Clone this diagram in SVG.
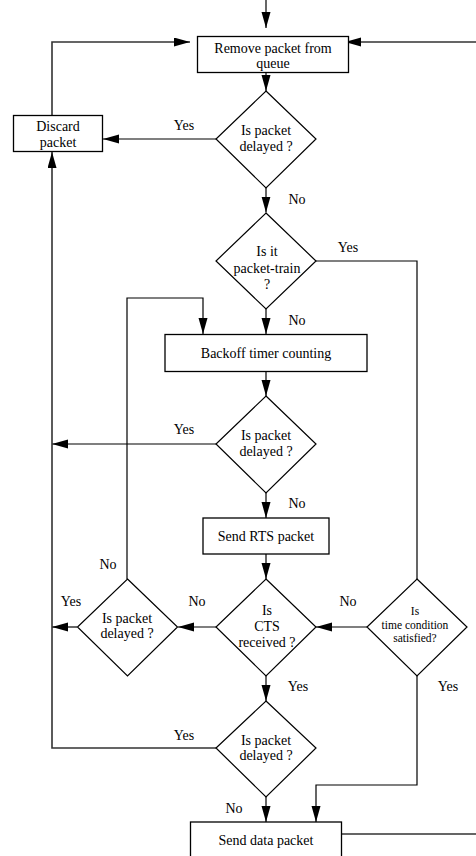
<svg xmlns="http://www.w3.org/2000/svg" width="476" height="856" viewBox="0 0 476 856">
<style>
  .box{fill:#fff;stroke:#000;stroke-width:1.3}
  .dia{fill:#fff;stroke:#000;stroke-width:1.2}
  .t{font-family:"Liberation Serif","Times New Roman",serif;font-size:14px;fill:#000;text-anchor:middle;dominant-baseline:central}
  .s{font-size:11.5px}
  .c{fill:none;stroke:#000;stroke-width:1.2}
  .o{fill:none;stroke:#333;stroke-width:1.6}
</style>
<defs>
  <marker id="ah" markerUnits="userSpaceOnUse" markerWidth="17" markerHeight="10" refX="16" refY="4.5" orient="auto">
    <path d="M0,0 L16,4.5 L0,9 z" fill="#000"/>
  </marker>
</defs>
<g id="connectors">
  <path class="c" d="M266,0 V28" marker-end="url(#ah)"/>
  <path class="c" d="M266,72 V91" marker-end="url(#ah)"/>
  <path class="c" d="M216,139 H103" marker-end="url(#ah)"/>
  <path class="c" d="M266,188 V212.5" marker-end="url(#ah)"/>
  <path class="o" d="M52,115 V42 H190" marker-end="url(#ah)"/>
  <path class="o" d="M342,834 H479 V42 H345" marker-end="url(#ah)"/>
  <path class="c" d="M266,309 V334" marker-end="url(#ah)"/>
  <path class="c" d="M316,261 H417 V579"/>
  <path class="c" d="M127,579 V298 H203 V334" marker-end="url(#ah)"/>
  <path class="c" d="M266,371 V396" marker-end="url(#ah)"/>
  <path class="c" d="M216,444 H52" marker-end="url(#ah)"/>
  <path class="c" d="M266,493 V518" marker-end="url(#ah)"/>
  <path class="c" d="M266,554 V579" marker-end="url(#ah)"/>
  <path class="c" d="M367,627 H316" marker-end="url(#ah)"/>
  <path class="c" d="M216,627 H178" marker-end="url(#ah)"/>
  <path class="c" d="M77,627 H52" marker-end="url(#ah)"/>
  <path class="c" d="M266,676 V701" marker-end="url(#ah)"/>
  <path class="o" d="M216,748 H52 V152" marker-end="url(#ah)"/>
  <path class="c" d="M417,676 V785 H316 V822" marker-end="url(#ah)"/>
  <path class="c" d="M266,797 V822" marker-end="url(#ah)"/>
</g>
<g id="labels">
  <text class="t" x="184" y="125">Yes</text>
  <text class="t" x="297" y="199">No</text>
  <text class="t" x="348" y="247">Yes</text>
  <text class="t" x="297" y="320">No</text>
  <text class="t" x="184" y="429">Yes</text>
  <text class="t" x="297" y="503">No</text>
  <text class="t" x="108" y="564">No</text>
  <text class="t" x="71" y="601">Yes</text>
  <text class="t" x="197" y="601">No</text>
  <text class="t" x="348" y="601">No</text>
  <text class="t" x="298" y="686">Yes</text>
  <text class="t" x="448" y="686">Yes</text>
  <text class="t" x="184" y="735">Yes</text>
  <text class="t" x="234" y="808">No</text>
</g>
<g id="remove">
  <rect class="box" x="197.5" y="36.5" width="151" height="36"/>
  <text class="t" x="273" y="48">Remove packet from</text>
  <text class="t" x="273" y="63">queue</text>
</g>
<g id="delayed1">
  <path class="dia" d="M266,91 L316,139 L266,188 L216,139 Z"/>
  <text class="t" x="266" y="130">Is packet</text>
  <text class="t" x="266" y="146">delayed ?</text>
</g>
<g id="discard">
  <rect class="box" x="13.5" y="115.5" width="89" height="36"/>
  <text class="t" x="58" y="126">Discard</text>
  <text class="t" x="58" y="142">packet</text>
</g>
<g id="train">
  <path class="dia" d="M266,213 L316,261 L266,309 L216,261 Z"/>
  <text class="t" x="267" y="251.5">Is it</text>
  <text class="t" x="267" y="268">packet-train</text>
  <text class="t" x="267" y="284">?</text>
</g>
<g id="backoff">
  <rect class="box" x="165" y="334.5" width="202" height="37"/>
  <text class="t" x="266" y="353">Backoff timer counting</text>
</g>
<g id="delayed2">
  <path class="dia" d="M266,396 L316,444 L266,493 L216,444 Z"/>
  <text class="t" x="266" y="435">Is packet</text>
  <text class="t" x="266" y="451">delayed ?</text>
</g>
<g id="rts">
  <rect class="box" x="203" y="518" width="126" height="36"/>
  <text class="t" x="266" y="536">Send RTS packet</text>
</g>
<g id="cts">
  <path class="dia" d="M266,579 L316,627 L266,676 L216,627 Z"/>
  <text class="t" x="267" y="610">Is</text>
  <text class="t" x="267" y="626">CTS</text>
  <text class="t" x="267" y="642">received ?</text>
</g>
<g id="delayed3">
  <path class="dia" d="M127.5,579 L177.5,627 L127.5,676 L77.5,627 Z"/>
  <text class="t" x="127" y="618">Is packet</text>
  <text class="t" x="127" y="633">delayed ?</text>
</g>
<g id="timecond">
  <path class="dia" d="M417,579 L467,627 L417,676 L367,627 Z"/>
  <text class="t s" x="415" y="611">Is</text>
  <text class="t s" x="415" y="624.5">time condition</text>
  <text class="t s" x="415" y="638">satisfied?</text>
</g>
<g id="delayed4">
  <path class="dia" d="M266,701 L316,748 L266,797 L216,748 Z"/>
  <text class="t" x="266" y="740">Is packet</text>
  <text class="t" x="266" y="755">delayed ?</text>
</g>
<g id="senddata">
  <rect class="box" x="190.5" y="822" width="151" height="44"/>
  <text class="t" x="266" y="840">Send data packet</text>
</g>
</svg>
